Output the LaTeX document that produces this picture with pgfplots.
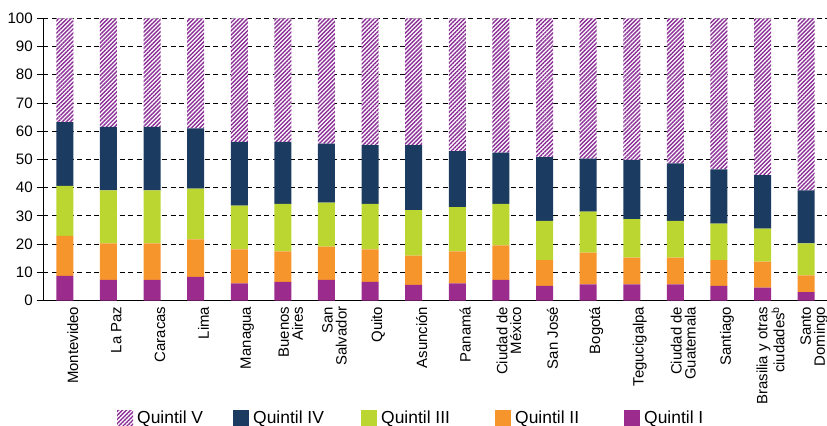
\documentclass[border=0pt]{standalone}
\usepackage{fontspec}
\setmainfont{Liberation Sans}
\usepackage{pgfplots}
\usepackage{pgfplotstable}
\pgfplotsset{compat=1.18}
\usetikzlibrary{patterns.meta}
\definecolor{qI}{HTML}{9C2B8E}
\definecolor{qII}{HTML}{F7952D}
\definecolor{qIII}{HTML}{BCD631}
\definecolor{qIV}{HTML}{1B3B61}
\definecolor{qV}{HTML}{8B2F97}

\pgfplotstableread{
idx q1 q2 q3 q4 q5
0 8.7 14.2 17.7 22.6 36.8
1 7.3 12.9 18.8 22.5 38.5
2 7.3 12.9 18.8 22.5 38.5
3 8.4 13.3 17.9 21.4 39.0
4 6.1 12.0 15.5 22.6 43.8
5 6.6 10.8 16.8 22.0 43.8
6 7.3 11.8 15.6 20.9 44.4
7 6.6 11.5 16.1 20.9 44.9
8 5.5 10.4 16.1 23.1 44.9
9 6.1 11.3 15.7 19.8 47.1
10 7.3 12.2 14.7 18.2 47.6
11 5.2 9.1 13.9 22.6 49.2
12 5.7 11.3 14.5 18.8 49.7
13 5.7 9.5 13.6 21.0 50.2
14 5.7 9.5 13.0 20.4 51.4
15 5.2 9.1 12.9 19.3 53.5
16 4.6 9.2 11.7 18.9 55.6
17 3.0 5.9 11.3 18.8 61.0
}\data

\begin{document}
\begin{tikzpicture}
\path[use as bounding box] (0,0) rectangle (827bp,426bp);
\begin{axis}[
  at={(43bp,125.5bp)}, anchor=south west,
  scale only axis, width=785bp, height=282.2bp,
  ybar stacked, bar width=17bp,
  xmin=-0.5, xmax=17.5, ymin=0, ymax=100,
  axis lines=left, axis line style={-, black, line width=0.8bp},
  xtick=data,
  xticklabels={Montevideo, La Paz, Caracas, Lima, Managua, Buenos\\Aires, San\\Salvador, Quito, Asunción, Panamá, Ciudad de\\México, San José, Bogotá, Tegucigalpa, Ciudad de\\Guatemala, Santiago, Brasilia y otras\\ciudades\textsuperscript{b}, Santo\\Domingo},
  xticklabel style={rotate=90, anchor=east, align=right, font=\fontsize{15}{14}\selectfont, inner sep=0pt, yshift=-8bp},
  xtick style={draw=none},
  minor xtick={-0.5,0.5,...,17.5},
  minor tick length=5bp,
  minor x tick style={black, line width=0.8bp},
  ytick={0,10,...,100},
  tick align=outside,
  major tick length=6bp,
  ytick style={black, line width=0.8bp},
  yticklabel style={font=\fontsize{15.2}{16}\selectfont, inner sep=0pt, xshift=-4bp},
  /pgf/number format/assume math mode=true,
  ymajorgrids,
  major grid style={black, line width=0.8bp, dash pattern=on 5bp off 3.5bp},
  reverse legend,
  legend columns=5,
  legend style={at={(0.0943,-0.388)}, anchor=north west, draw=none, inner sep=0pt,
    font=\fontsize{17.5}{19}\selectfont,
    /tikz/every even column/.append style={column sep=0bp},
    nodes={inner xsep=4bp, inner ysep=0pt}},
  legend image code/.code={\path[#1] (0bp,-8bp) rectangle (16bp,8bp);},
]
\addplot[fill=qI, draw=none] table[x=idx, y=q1] {\data};
\addlegendentry{\makebox[90bp][l]{Quintil I}}
\addplot[fill=qII, draw=none] table[x=idx, y=q2] {\data};
\addlegendentry{\makebox[105bp][l]{Quintil II}}
\addplot[fill=qIII, draw=none] table[x=idx, y=q3] {\data};
\addlegendentry{\makebox[110bp][l]{Quintil III}}
\addplot[fill=qIV, draw=none] table[x=idx, y=q4] {\data};
\addlegendentry{\makebox[104bp][l]{Quintil IV}}
\addplot[fill=white, draw=none, postaction={pattern={Lines[angle=45, distance=2.9bp, line width=1.4bp]}, pattern color=qV}] table[x=idx, y=q5] {\data};
\addlegendentry{\makebox[92bp][l]{Quintil V}}
\end{axis}
\end{tikzpicture}
\end{document}
